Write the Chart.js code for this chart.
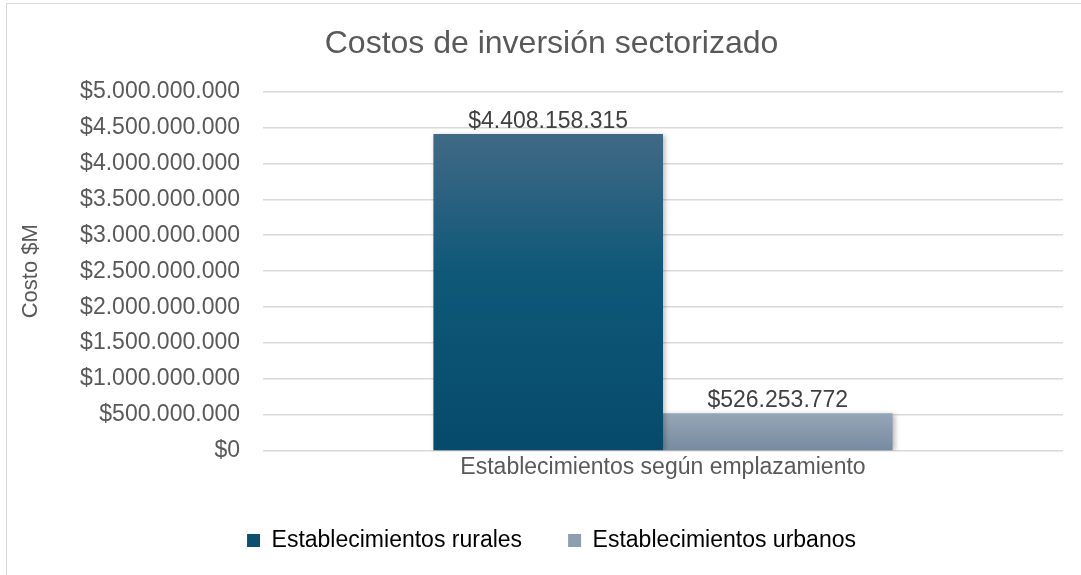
<!DOCTYPE html>
<html lang="es">
<head>
  <meta charset="UTF-8" />
  <title>Costos de inversión sectorizado</title>
  <script src="https://cdn.jsdelivr.net/npm/chart.js"></script>
  <style>
    html, body {
      margin: 0;
      padding: 0;
      background: #ffffff;
      width: 1081px;
      height: 575px;
      overflow: hidden;
      position: relative;
    }
    .box {
      position: absolute;
      left: 6px;
      top: 3px;
      width: 1100px;
      height: 580px;
      border: 1px solid #d9d9d9;
      box-sizing: border-box;
    }
    .chart-wrap {
      position: absolute;
      left: 0;
      top: 0;
      width: 1090px;
      height: 571px;
    }
  </style>
</head>
<body>
  <div class="box">
    <div class="chart-wrap">
      <canvas id="costos"></canvas>
    </div>
  </div>

  <script>
    // datos
    const categorias = ['Establecimientos según emplazamiento'];
    const series = ['Establecimientos rurales', 'Establecimientos urbanos'];
    const rurales = [4408158315];
    const urbanos = [526253772];
    const ticksY = [0, 500000000, 1000000000, 1500000000, 2000000000, 2500000000,
                    3000000000, 3500000000, 4000000000, 4500000000, 5000000000];

    const fuente = "'Liberation Sans', Arial, sans-serif";
    const gris = '#595959';

    function pesos(v) {
      return '$' + Math.round(v).toString().replace(/\B(?=(\d{3})+(?!\d))/g, '.');
    }

    // sombra leve detrás de las barras
    const sombra = {
      id: 'sombra',
      beforeDatasetDraw(chart) {
        const c = chart.ctx;
        c.save();
        c.shadowColor = 'rgba(0,0,0,0.28)';
        c.shadowBlur = 5;
        c.shadowOffsetX = 2;
        c.shadowOffsetY = 1;
      },
      afterDatasetDraw(chart) {
        chart.ctx.restore();
      }
    };

    // etiquetas de valor sobre cada barra
    const etiquetas = {
      id: 'etiquetas',
      afterDatasetsDraw(chart) {
        const c = chart.ctx;
        c.save();
        c.font = '23px ' + fuente;
        c.fillStyle = '#404040';
        c.textAlign = 'center';
        c.textBaseline = 'bottom';
        chart.data.datasets.forEach((ds, i) => {
          chart.getDatasetMeta(i).data.forEach((bar, j) => {
            c.fillText(pesos(ds.data[j]), bar.x, bar.y - 1);
          });
        });
        c.restore();
      }
    };

    const ctx = document.getElementById('costos').getContext('2d');

    new Chart(ctx, {
      type: 'bar',
      data: {
        labels: categorias,
        datasets: [
          {
            label: series[0],
            data: rurales,
            backgroundColor: (c) => {
              const a = c.chart.chartArea;
              if (!a) return '#0e5777';
              const g = c.chart.ctx.createLinearGradient(0, a.top, 0, a.bottom);
              g.addColorStop(0, '#4f6f8a');
              g.addColorStop(0.5, '#0f5878');
              g.addColorStop(1, '#064a6b');
              return g;
            },
            legendColor: '#0c4f70',
            categoryPercentage: 0.574,
            barPercentage: 1
          },
          {
            label: series[1],
            data: urbanos,
            backgroundColor: (c) => {
              const a = c.chart.chartArea;
              if (!a) return '#8b9db0';
              const g = c.chart.ctx.createLinearGradient(0, a.bottom - 40, 0, a.bottom);
              g.addColorStop(0, '#97a8b7');
              g.addColorStop(1, '#768ba0');
              return g;
            },
            legendColor: '#8c9eb0',
            categoryPercentage: 0.574,
            barPercentage: 1
          }
        ]
      },
      options: {
        responsive: true,
        maintainAspectRatio: false,
        animation: false,
        layout: {
          padding: { left: 11, right: 12, top: 0, bottom: 13 }
        },
        plugins: {
          title: {
            display: true,
            text: 'Costos de inversión sectorizado',
            color: gris,
            font: { family: fuente, size: 32, weight: 'normal' },
            padding: { top: 21, bottom: 28 }
          },
          legend: {
            position: 'bottom',
            labels: {
              color: gris,
              font: { family: fuente, size: 23 },
              boxWidth: 13,
              boxHeight: 13,
              padding: 46,
              generateLabels(chart) {
                return chart.data.datasets.map((ds, i) => ({
                  text: ds.label,
                  fillStyle: ds.legendColor,
                  strokeStyle: ds.legendColor,
                  lineWidth: 0,
                  datasetIndex: i
                }));
              }
            }
          },
          tooltip: { enabled: false }
        },
        scales: {
          x: {
            grid: { display: false, drawTicks: false },
            border: { display: false },
            ticks: {
              color: gris,
              font: { family: fuente, size: 23 },
              padding: 3
            },
            afterFit(scale) { scale.height = 32; }
          },
          y: {
            min: 0,
            max: 5000000000,
            afterBuildTicks(scale) {
              scale.ticks = ticksY.map(v => ({ value: v }));
            },
            afterFit(scale) { scale.width = 245; },
            title: {
              display: true,
              text: 'Costo $M',
              color: gris,
              font: { family: fuente, size: 22 },
              padding: 0
            },
            grid: { color: '#d9d9d9', lineWidth: 1.5, drawTicks: false },
            border: { display: false },
            ticks: {
              color: gris,
              font: { family: fuente, size: 23 },
              padding: 23,
              callback: (v) => pesos(v)
            }
          },
          // eje vacío a la derecha: deja el área de trazado donde está en el original
          derecha: {
            position: 'right',
            display: true,
            grid: { display: false },
            border: { display: false },
            ticks: { display: false },
            afterFit(scale) { scale.width = 22; }
          }
        }
      },
      plugins: [sombra, etiquetas]
    });
  </script>
</body>
</html>
